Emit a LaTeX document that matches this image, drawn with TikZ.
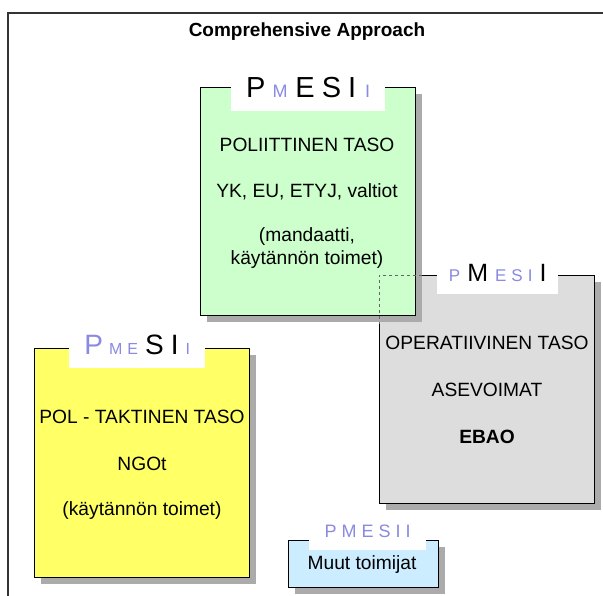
\documentclass[tikz,border=0pt]{standalone}
\usepackage{fontspec}
\setmainfont{Liberation Sans}
\usetikzlibrary{shadows}

\definecolor{polgreen}{HTML}{CCFFCC}
\definecolor{opgrey}{HTML}{DDDDDD}
\definecolor{takyellow}{HTML}{FFFF66}
\definecolor{muutblue}{HTML}{CCECFF}
\definecolor{lavtext}{HTML}{8A8AE0}
\definecolor{shadowgrey}{HTML}{ABABAB}
\definecolor{framegrey}{HTML}{333333}

% letter sizes for the PMESII headers
\newcommand\pmBig[2]{{\fontsize{#1}{#1}\selectfont #2}}
\newcommand\pmSmall[2]{{\fontsize{#1}{#1}\selectfont\color{lavtext}#2}}

\tikzset{
  levelbox/.style={draw=black, line width=1.2pt, anchor=north west, inner sep=0pt,
    drop shadow={shadow xshift=6pt, shadow yshift=-6pt, fill=shadowgrey, opacity=1}},
  bodytext/.style={font=\fontsize{19.2}{23}\selectfont, inner sep=0pt, align=center},
  pmtag/.style={fill=white, inner sep=0pt, anchor=north west}
}

\begin{document}
\begin{tikzpicture}[x=1pt, y=-1pt]
\useasboundingbox (0,0) rectangle (603,596);

% outer frame (only the left and top edges fall inside the page)
\draw[framegrey, line width=1.4pt] (8,600) -- (8,13) -- (610,13);

\node[font=\bfseries\fontsize{19}{19}\selectfont] (title) at (307,32) {Comprehensive Approach};

% operational level
\node[levelbox, fill=opgrey, minimum width=215pt, minimum height=228pt] (op) at (379,275) {};
\node[pmtag, minimum width=121pt, minimum height=37pt] (optag) at (437,257) {};
\node[anchor=base, inner sep=0pt] (oplet) at (optag.south |- 0,282)
  {\pmSmall{17}{P}\hspace{7pt}\pmBig{25}{M}\hspace{7pt}\pmSmall{17}{E}\hspace{5pt}\pmSmall{17}{S}\hspace{5pt}\pmSmall{17}{I}\hspace{7pt}\pmBig{25}{I}};
\node[bodytext] (op1) at (487,343) {OPERATIIVINEN TASO};
\node[bodytext] (op2) at (487,390) {ASEVOIMAT};
\node[bodytext, font=\bfseries\fontsize{19.2}{23}\selectfont] (op3) at (487,437) {EBAO};

% political level
\node[levelbox, fill=polgreen, minimum width=215pt, minimum height=228pt] (pol) at (200,87) {};
\node[pmtag, minimum width=154pt, minimum height=41pt] (poltag) at (231,70) {};
\node[anchor=base, inner sep=0pt] (pollet) at (poltag.south |- 0,98)
  {\pmBig{29}{P}\hspace{7pt}\pmSmall{18}{M}\hspace{8pt}\pmBig{29}{E}\hspace{7pt}\pmBig{29}{S}\hspace{7pt}\pmBig{29}{I}\hspace{9pt}\pmSmall{18}{I}};
\node[bodytext] (pol1) at (307,145) {POLIITTINEN TASO};
\node[bodytext] (pol2) at (307,192) {YK, EU, ETYJ, valtiot};
\node[bodytext] (pol3) at (307,248) {(mandaatti,\\käytännön toimet)};

% hidden corner of the operational box behind the political box
\coordinate (hidA) at (op.north west -| pol.east);
\coordinate (hidB) at (op.west |- pol.south);
\draw[gray!80!black, dashed, line width=0.8pt] ([xshift=6pt]hidA) -- (op.north west) -- ([yshift=-8pt]hidB);

% political-tactical level
\node[levelbox, fill=takyellow, minimum width=215pt, minimum height=229pt] (tak) at (34,348) {};
\node[pmtag, minimum width=136pt, minimum height=35pt] (taktag) at (69,333) {};
\node[anchor=base, inner sep=0pt] (taklet) at (taktag.south |- 0,355)
  {\pmSmall{28}{P}\hspace{6pt}\pmSmall{16}{M}\hspace{5pt}\pmSmall{16}{E}\hspace{7pt}\pmBig{28}{S}\hspace{7pt}\pmBig{28}{I}\hspace{7pt}\pmSmall{16}{I}};
\node[bodytext] (tak1) at (142,417) {POL - TAKTINEN TASO};
\node[bodytext] (tak2) at (142,464) {NGOt};
\node[bodytext] (tak3) at (142,511) {(käytännön toimet)};

% other actors
\node[levelbox, fill=muutblue, minimum width=150pt, minimum height=47pt] (muu) at (288,540) {};
\node[pmtag, minimum width=117pt, minimum height=30pt] (muutag) at (309,520) {};
\node[anchor=base, inner sep=0pt] (muulet) at (muutag.south |- 0,537)
  {\pmSmall{18}{P}\hspace{5pt}\pmSmall{18}{M}\hspace{5pt}\pmSmall{18}{E}\hspace{5pt}\pmSmall{18}{S}\hspace{5pt}\pmSmall{18}{I}\hspace{5pt}\pmSmall{18}{I}};
\node[bodytext] (muu1) at (362,565) {Muut toimijat};
\end{tikzpicture}
\end{document}
